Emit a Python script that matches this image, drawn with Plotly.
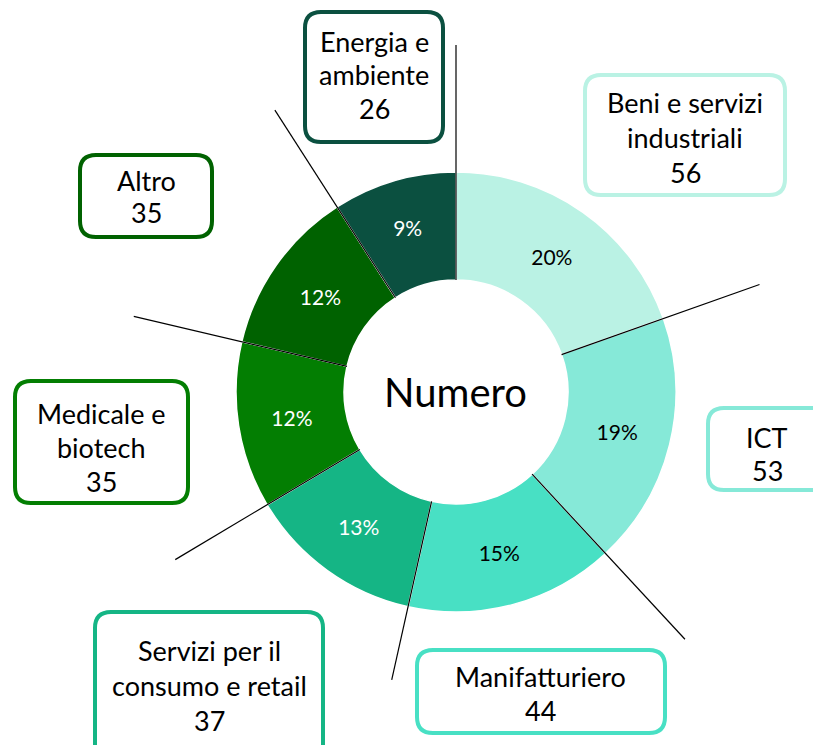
import math
import plotly.graph_objects as go

W, H = 813, 745

categories = ["Beni e servizi industriali", "ICT", "Manifatturiero",
              "Servizi per il consumo e retail", "Medicale e biotech", "Altro",
              "Energia e ambiente"]
values = [56, 53, 44, 37, 35, 35, 26]
label_lines = [["Beni e servizi", "industriali"], ["ICT"], ["Manifatturiero"],
               ["Servizi per il", "consumo e retail"], ["Medicale e", "biotech"],
               ["Altro"], ["Energia e", "ambiente"]]
colors = ["#BAF2E4", "#86E9D8", "#48E0C4", "#15B585", "#037E02", "#006200", "#0B5040"]
pct_text_colors = ["black", "black", "black", "white", "white", "white", "white"]

# layout (pixels)
CX, CY, R_OUT, R_IN = 456, 392, 220, 112
FONT = "Lato"
# box: x0, x1, y0, y1, text center x, first line y, line step
boxes = [
    (585, 785, 75, 195, 685, 103, 34.5),
    (708, 840, 408, 490, 767, 437, 34),
    (417, 665, 650, 733, 540, 676, 34),
    (95, 323, 612, 770, 209, 650, 35),
    (15, 188, 381, 503, 101, 413, 34),
    (80, 212, 155, 237, 146, 180, 33),
    (305, 443, 12, 142, 374, 42, 33),
]
leader_len = [347, 322, 337, 295, 327, 331, 335]  # boundary i = start of slice i


def px(x):
    return x / W


def py(y):
    return 1 - y / H


fig = go.Figure(go.Pie(
    labels=categories, values=values, sort=False, direction="clockwise",
    rotation=0, hole=R_IN / R_OUT,
    marker=dict(colors=colors, line=dict(color="white", width=1.5)),
    texttemplate="%{percent:.0%}", textposition="inside",
    insidetextorientation="horizontal",
    insidetextfont=dict(family=FONT, size=21, color=pct_text_colors),
    hoverinfo="label+value+percent", showlegend=False,
    domain=dict(x=[px(CX - R_OUT), px(CX + R_OUT)], y=[py(CY + R_OUT), py(CY - R_OUT)]),
))

shapes = []
annotations = []
total = sum(values)
cum = 0
for i, v in enumerate(values):
    ang = 2 * math.pi * cum / total
    s, c = math.sin(ang), math.cos(ang)
    x0, y0 = CX + R_IN * s, CY - R_IN * c
    x1, y1 = CX + leader_len[i] * s, CY - leader_len[i] * c
    shapes.append(dict(type="line", xref="paper", yref="paper",
                       x0=px(x0), y0=py(y0), x1=px(x1), y1=py(y1),
                       line=dict(color="black", width=1.2), layer="above"))
    cum += v

for i, (bx0, bx1, by0, by1, tcx, ty, step) in enumerate(boxes):
    r = 16
    path = (f"M {px(bx0 + r)},{py(by0)} L {px(bx1 - r)},{py(by0)} "
            f"Q {px(bx1)},{py(by0)} {px(bx1)},{py(by0 + r)} "
            f"L {px(bx1)},{py(by1 - r)} Q {px(bx1)},{py(by1)} {px(bx1 - r)},{py(by1)} "
            f"L {px(bx0 + r)},{py(by1)} Q {px(bx0)},{py(by1)} {px(bx0)},{py(by1 - r)} "
            f"L {px(bx0)},{py(by0 + r)} Q {px(bx0)},{py(by0)} {px(bx0 + r)},{py(by0)} Z")
    shapes.append(dict(type="path", xref="paper", yref="paper", path=path,
                       fillcolor="white", line=dict(color=colors[i], width=4),
                       layer="above"))
    lines = label_lines[i] + [str(values[i])]
    for k, t in enumerate(lines):
        annotations.append(dict(text=t, xref="paper", yref="paper",
                                x=px(tcx), y=py(ty + k * step),
                                xanchor="center", yanchor="middle", showarrow=False,
                                font=dict(family=FONT, size=27, color="black")))

annotations.append(dict(text="Numero", xref="paper", yref="paper", x=px(CX), y=py(CY),
                        xanchor="center", yanchor="middle", showarrow=False,
                        font=dict(family=FONT, size=40, color="black")))

fig.update_layout(width=W, height=H, margin=dict(l=0, r=0, t=0, b=0),
                  paper_bgcolor="white", plot_bgcolor="white",
                  shapes=shapes, annotations=annotations)

fig.write_html("out.html", config={"displayModeBar": False},
               post_script="document.body.style.margin='0';document.body.style.overflow='hidden';")
